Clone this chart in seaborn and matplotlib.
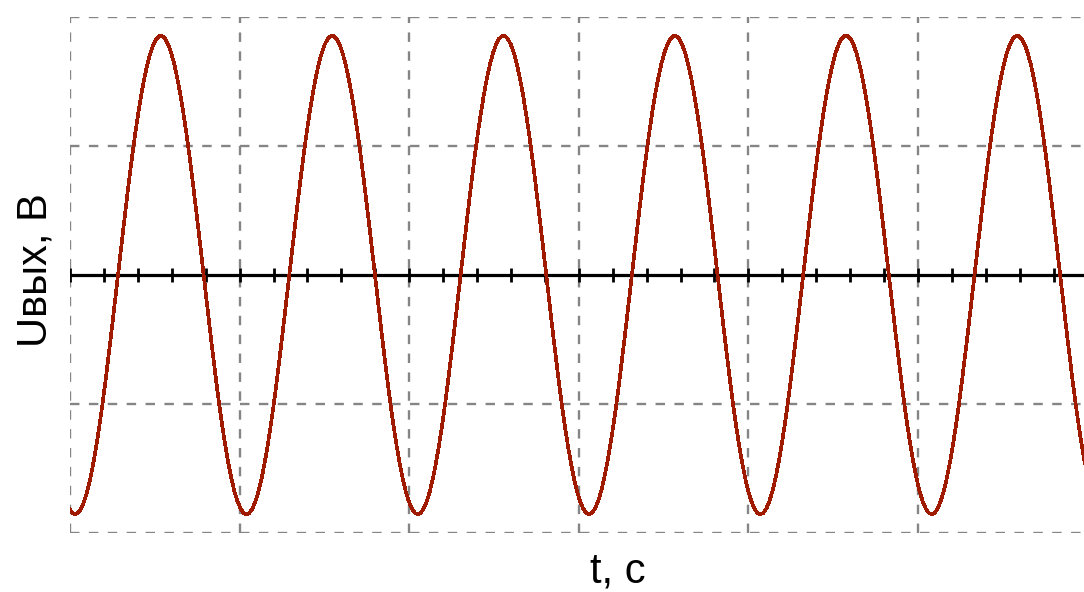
import numpy as np
import matplotlib
matplotlib.use("Agg")
import matplotlib.pyplot as plt
import seaborn as sns

sns.set_style("white")
plt.rcParams["font.family"] = ["Liberation Sans", "DejaVu Sans"]

# One period of the output voltage, in screen divisions, sampled 57 times per period
period_samples = [
    -1.810, -1.844, -1.855, -1.844, -1.810, -1.754, -1.678, -1.580, -1.463, -1.329,
    -1.179, -1.015, -0.838, -0.650, -0.455, -0.255, -0.051, 0.153, 0.356, 0.554,
    0.745, 0.928, 1.099, 1.256, 1.399, 1.524, 1.631, 1.719, 1.785, 1.830,
    1.852, 1.852, 1.830, 1.785, 1.719, 1.631, 1.524, 1.399, 1.256, 1.099,
    0.928, 0.745, 0.554, 0.356, 0.153, -0.051, -0.255, -0.455, -0.650, -0.838,
    -1.015, -1.179, -1.329, -1.463, -1.580, -1.678, -1.754,
]
period = 1.01          # divisions per period
n_periods = 6
t_start = -0.0049      # time of the first sample, divisions

x_label = "t, c"
y_label = "Uвых, В"

u = np.array(period_samples * n_periods + [period_samples[0]])
dt = period / len(period_samples)
t = t_start + dt * np.arange(len(u))

W, H = 1084, 592
fig = plt.figure(figsize=(W / 100, H / 100), dpi=100)
ax = fig.add_axes([70 / W, (H - 533) / H, (W - 70) / W, 516 / H])
ax.set_xlim(0, 1014 / 169.6)
ax.set_ylim(-2, 2)

# dashed screen grid
grid_kw = dict(color="#858585", lw=1.7, dashes=(4.0, 4.0), zorder=1)
for gx in range(0, 7):
    ax.axvline(gx, **grid_kw)
for gy in (-2, -1, 1, 2):
    ax.axhline(gy, **grid_kw)

# time axis with minor ticks every fifth of a division
ax.axhline(0, color="black", lw=2.3, zorder=2)
ticks = np.arange(0, 6.01, 0.2)
ax.vlines(ticks, -0.055, 0.055, color="black", lw=2.0, zorder=2)

sns.lineplot(x=t, y=u, ax=ax, color="#a01a00", lw=1.9, estimator=None,
             sort=False, antialiased=False, zorder=3)

ax.set_xticks([])
ax.set_yticks([])
ax.set_xlabel("")
ax.set_ylabel("")
for s in ax.spines.values():
    s.set_visible(False)

fig.text(35 / W, 1 - 270 / H, y_label, rotation=90, ha="center", va="center",
         fontsize=30, color="black")
fig.text(618 / W, 1 - 572 / H, x_label, ha="center", va="center",
         fontsize=30, color="black")

fig.savefig("out.png", dpi=100)
